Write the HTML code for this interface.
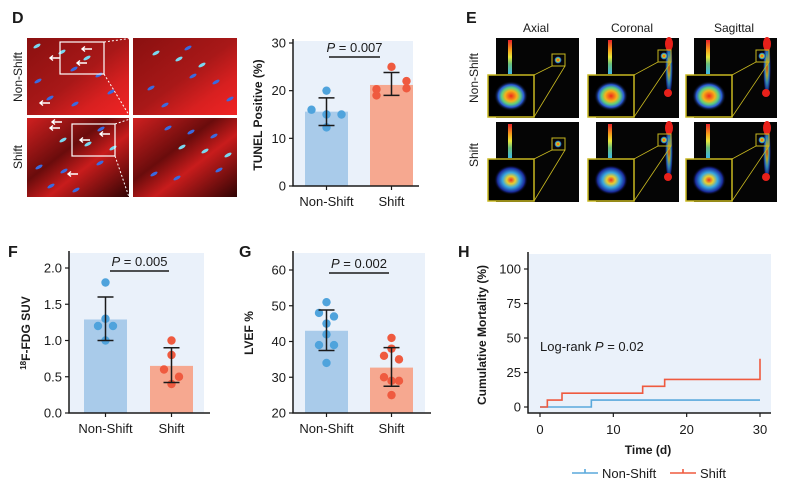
<!DOCTYPE html>
<html><head><meta charset="utf-8">
<style>
html,body{margin:0;padding:0;background:#fff;}
svg{display:block;font-family:"Liberation Sans",sans-serif;}
</style></head>
<body>
<svg id="fig" width="796" height="492" viewBox="0 0 796 492" xmlns="http://www.w3.org/2000/svg">
<defs>
<linearGradient id="cbar" x1="0" y1="0" x2="0" y2="1"><stop offset="0" stop-color="#e8202a"/><stop offset="0.3" stop-color="#f7a21b"/><stop offset="0.5" stop-color="#e9e83a"/><stop offset="0.7" stop-color="#6cc07a"/><stop offset="1" stop-color="#3cb8e8"/></linearGradient>
<radialGradient id="hot"><stop offset="0" stop-color="#f02a1a"/><stop offset="0.35" stop-color="#f5b21a"/><stop offset="0.55" stop-color="#5fd07a"/><stop offset="0.75" stop-color="#2a5ad8"/><stop offset="1" stop-color="#000" stop-opacity="0"/></radialGradient>
<radialGradient id="cool"><stop offset="0" stop-color="#e83020"/><stop offset="0.25" stop-color="#e8d030"/><stop offset="0.5" stop-color="#38a8e0"/><stop offset="0.8" stop-color="#1a2a9a"/><stop offset="1" stop-color="#000" stop-opacity="0"/></radialGradient>
<linearGradient id="mic1" x1="0" y1="0" x2="1" y2="1"><stop offset="0" stop-color="#8a1010"/><stop offset="0.5" stop-color="#a81818"/><stop offset="0.75" stop-color="#d82020"/><stop offset="1" stop-color="#f02424"/></linearGradient>
<linearGradient id="mic2" x1="0" y1="0" x2="1" y2="1"><stop offset="0" stop-color="#d02020"/><stop offset="0.4" stop-color="#6a0c0c"/><stop offset="0.6" stop-color="#c81c1c"/><stop offset="1" stop-color="#300404"/></linearGradient>
</defs>
<g id="root"></g>
</svg>
<script>
const NS='http://www.w3.org/2000/svg';
const root=document.getElementById('root');
function mk(tag,attrs,parent,txt){const e=document.createElementNS(NS,tag);for(const k in attrs)e.setAttribute(k,attrs[k]);if(txt!==undefined)e.textContent=txt;(parent||root).appendChild(e);return e;}

// ---------- data ----------
const barCategories=['Non-Shift','Shift'];
const tunelMeans=[15.6,21.2];
const tunelErrHi=[18.5,23.8];
const tunelErrLo=[12.7,19.0];
const tunelPtsNS=[20,16,15,15,12.3];
const tunelPtsS=[25,22,20.3,20.5,19];
const tunelTicks=[0,10,20,30];
const fdgMeans=[1.29,0.65];
const fdgErrHi=[1.6,0.9];
const fdgErrLo=[1.0,0.42];
const fdgPtsNS=[1.8,1.3,1.2,1.2,1.0];
const fdgPtsS=[1.0,0.8,0.6,0.5,0.4];
const fdgTicks=[0.0,0.5,1.0,1.5,2.0];
const lvefMeans=[43,32.7];
const lvefErrHi=[48.8,38.3];
const lvefErrLo=[37.5,27.5];
const lvefPtsNS=[51,48,47,45,42,39,39,34];
const lvefPtsS=[41,38,36,35,30,29,29,25];
const lvefTicks=[20,30,40,50,60];
const kmTimesS=[0,1,3,14,17,30,30];
const kmValsS=[0,5,10,15,20,20,35];
const kmTimesNS=[0,7,30];
const kmValsNS=[0,5,5];
const kmYTicks=[0,25,50,75,100];
const kmXTicks=[0,10,20,30];

const BLUE_BAR='#a9cbea',RED_BAR='#f6a890',BLUE_DOT='#4fa3dc',RED_DOT='#ef5a3f',BG='#eaf1fa',INK='#1a1a1a';

function barChart(cfg){
  const g=mk('g',{});
  
  
  const y=v=>cfg.y0+(v-cfg.vmin)/(cfg.vmax-cfg.vmin)*(cfg.y1-cfg.y0);
  const bg=mk('rect',{x:cfg.ax,y:cfg.top,width:cfg.right-cfg.ax,height:cfg.y0-cfg.top,fill:BG},g);
  
  const centers=[cfg.bx[0]+cfg.bw/2,cfg.bx[1]+cfg.bw/2];
  const pts=[cfg.ptsNS,cfg.ptsS];
  cfg.means.forEach((m,i)=>{
    const b=mk('rect',{x:cfg.bx[i],y:y(m),width:cfg.bw,height:cfg.y0-y(m),fill:i?RED_BAR:BLUE_BAR},g);
    
    
    const c=centers[i];
    pts[i].forEach((v,j)=>{
      const off=cfg.offs[i][j]*cfg.spread;
      const d=mk('circle',{cx:c+off,cy:y(v),r:4.2,fill:i?RED_DOT:BLUE_DOT},g);
      
      
    });
    const e=mk('path',{d:`M${c},${y(cfg.hi[i])}V${y(cfg.lo[i])}M${c-8},${y(cfg.hi[i])}H${c+8}M${c-8},${y(cfg.lo[i])}H${c+8}`,stroke:INK,'stroke-width':1.5,fill:'none'},g);
    
    
    const t=mk('text',{x:c,y:cfg.y0+20,'text-anchor':'middle','font-size':13,fill:INK},g,barCategories[i]);
    
    
    mk('line',{x1:c,x2:c,y1:cfg.y0,y2:cfg.y0+4,stroke:INK,'stroke-width':1.2},g);
  });
  mk('path',{d:`M${cfg.ax},${cfg.top-2}V${cfg.y0}H${cfg.right+6}`,stroke:INK,'stroke-width':1.5,fill:'none'},g);
  cfg.ticks.forEach(v=>{
    mk('line',{x1:cfg.ax-4,x2:cfg.ax,y1:y(v),y2:y(v),stroke:INK,'stroke-width':1.2},g);
    const t=mk('text',{x:cfg.ax-7,y:y(v)+4.5,'text-anchor':'end','font-size':13,fill:INK},g,cfg.fmt(v));
    
    
  });
  const yt=mk('text',{transform:`translate(${cfg.tx},${cfg.ty}) rotate(-90)`,'text-anchor':'middle','font-size':12,'font-weight':'bold',fill:INK},g);
  yt.innerHTML=cfg.title;
  
  
  mk('line',{x1:cfg.pb[0],x2:cfg.pb[1],y1:cfg.pby,y2:cfg.pby,stroke:INK,'stroke-width':1.5},g);
  const p=mk('text',{x:(cfg.pb[0]+cfg.pb[1])/2,y:cfg.pby-5,'text-anchor':'middle','font-size':13,fill:INK},g);
  p.innerHTML='<tspan font-style="italic">P</tspan> = '+cfg.p;
  
  
}

barChart({name:'tunel-chart',ax:293,right:413,top:41,y0:186,y1:43,vmin:0,vmax:30,bx:[305,370],bw:43,means:tunelMeans,hi:tunelErrHi,lo:tunelErrLo,ptsNS:tunelPtsNS,ptsS:tunelPtsS,offs:[[0,-1,0,1,0],[0,1,-1,1,-1]],spread:15,ticks:tunelTicks,fmt:v=>String(v),title:'TUNEL Positive (%)',tx:262,ty:115,pb:[329,380],pby:57,p:'0.007'});
barChart({name:'fdg-suv-chart',ax:69,right:204,top:253,y0:413,y1:268,vmin:0,vmax:2,bx:[84,150],bw:43,means:fdgMeans,hi:fdgErrHi,lo:fdgErrLo,ptsNS:fdgPtsNS,ptsS:fdgPtsS,offs:[[0,0,-1,1,0],[0,0,-1,1,0]],spread:7.5,ticks:fdgTicks,fmt:v=>v.toFixed(1),title:'<tspan font-size="8" dy="-4">18</tspan><tspan dy="4">F-FDG SUV</tspan>',tx:30,ty:333,pb:[110,169],pby:271,p:'0.005'});
barChart({name:'lvef-chart',ax:293,right:425,top:253,y0:413,y1:270,vmin:20,vmax:60,bx:[305,370],bw:43,means:lvefMeans,hi:lvefErrHi,lo:lvefErrLo,ptsNS:lvefPtsNS,ptsS:lvefPtsS,offs:[[0,-1,1,0,0,-1,1,0],[0,0,-1,1,-1,0,1,0]],spread:7.5,ticks:lvefTicks,fmt:v=>String(v),title:'LVEF %',tx:253,ty:333,pb:[329,389],pby:273,p:'0.002'});

// ---------- KM ----------
(function(){
  const g=mk('g',{});
  
  
  const ax=528,y0=413,right=771,top=254;
  const x=t=>540+t/30*220, y=v=>407-v/100*138;
  const bg=mk('rect',{x:ax,y:top,width:right-ax,height:y0-top,fill:BG},g);
  
  function step(ts,vs){let d=`M${x(ts[0])},${y(vs[0])}`;for(let i=1;i<ts.length;i++){d+=`H${x(ts[i])}V${y(vs[i])}`;}return d;}
  const ln=mk('path',{d:step(kmTimesNS,kmValsNS),stroke:'#5aa9dc','stroke-width':1.6,fill:'none'},g);
  
  const ls=mk('path',{d:step(kmTimesS,kmValsS),stroke:'#ef5a3f','stroke-width':1.6,fill:'none'},g);
  
  mk('path',{d:`M${ax},${top-2}V${y0}H${right}`,stroke:INK,'stroke-width':1.5,fill:'none'},g);
  kmYTicks.forEach(v=>{mk('line',{x1:ax-4,x2:ax,y1:y(v),y2:y(v),stroke:INK,'stroke-width':1.2},g);
    const t=mk('text',{x:ax-7,y:y(v)+4.5,'text-anchor':'end','font-size':13,fill:INK},g,String(v));
    });
  kmXTicks.forEach(v=>{mk('line',{x1:x(v),x2:x(v),y1:y0,y2:y0+4,stroke:INK,'stroke-width':1.2},g);
    const t=mk('text',{x:x(v),y:y0+21,'text-anchor':'middle','font-size':13,fill:INK},g,String(v));
    });
  const xt=mk('text',{x:648,y:454,'text-anchor':'middle','font-size':12,'font-weight':'bold',fill:INK},g,'Time (d)');
  
  const yt=mk('text',{transform:'translate(486,335) rotate(-90)','text-anchor':'middle','font-size':12,'font-weight':'bold',fill:INK},g,'Cumulative Mortality (%)');
  
  const lr=mk('text',{x:540,y:351,'font-size':13,fill:INK},g);
  lr.innerHTML='Log-rank <tspan font-style="italic">P</tspan> = 0.02';
  
  [['Non-Shift','#5aa9dc',572],['Shift','#ef5a3f',670]].forEach(([n,c,lx])=>{
    const le=mk('g',{},g);
    
    mk('path',{d:`M${lx},473H${lx+26}M${lx+13},469V473`,stroke:c,'stroke-width':1.6,fill:'none'},le);
    mk('text',{x:lx+30,y:478,'font-size':13,fill:INK},le,n);
  });
})();

// ---------- panel letters ----------
[['D',12,23],['E',466,23],['F',8,257],['G',239,257],['H',458,257]].forEach(([l,px,py])=>{
  const t=mk('text',{x:px,y:py,'font-size':16,'font-weight':'bold',fill:INK},root,l);
  
});

// ---------- microscopy (panel D images) ----------
(function(){
  const g=mk('g',{});
  
  const boxes=[[27,38,102,77,'mic1'],[133,38,104,77,'mic1'],[27,118,102,79,'mic2'],[133,118,104,79,'mic2']];
  boxes.forEach(([bx,by,w,h,gr],i)=>{
    const r=mk('rect',{x:bx,y:by,width:w,height:h,fill:`url(#${gr})`},g);
    
    for(let k=0;k<9;k++){const ex=bx+10+((k*37+i*13)%(w-16)), ey=by+8+((k*23+i*7)%(h-14));
      mk('ellipse',{cx:ex,cy:ey,rx:4,ry:1.6,fill:k%3?'#3a6ae0':'#7ad8f0',transform:`rotate(-30 ${ex} ${ey})`},g);}
  });
  mk('rect',{x:60,y:42,width:44,height:32,fill:'none',stroke:'#fff','stroke-width':1.2},g);
  mk('rect',{x:72,y:124,width:43,height:32,fill:'none',stroke:'#fff','stroke-width':1.2},g);
  mk('path',{d:'M104,42L133,38M104,74L129,115M115,124L133,118M115,156L129,197',stroke:'#fff','stroke-dasharray':'2,2','stroke-width':1},g);
  [[82,49],[50,58],[77,63],[40,103],[52,122],[50,128],[80,140],[100,134],[68,174]].forEach(([ax,ay])=>{
    mk('path',{d:`M${ax+10},${ay}H${ax}M${ax+3},${ay-2.5}L${ax},${ay}L${ax+3},${ay+2.5}`,stroke:'#fff','stroke-width':1.4,fill:'none'},g);
  });
  const l1=mk('text',{transform:'translate(22,77) rotate(-90)','text-anchor':'middle','font-size':12,fill:INK},g,'Non-Shift');
  
  const l2=mk('text',{transform:'translate(22,157) rotate(-90)','text-anchor':'middle','font-size':12,fill:INK},g,'Shift');
  
})();

// ---------- PET images (panel E) ----------
(function(){
  const g=mk('g',{});
  
  const cols=[[496,536,'Axial'],[596,632,'Coronal'],[694,734,'Sagittal']];
  const rows=[[38,'Non-Shift'],[122,'Shift']];
  cols.forEach(([cx,hx,name],ci)=>{
    const h=mk('text',{x:hx,y:32,'text-anchor':'middle','font-size':12,fill:INK},g,name);
    
    rows.forEach(([ry],ri)=>{
      const im=mk('rect',{x:cx,y:ry,width:83,height:80,fill:'#050505'},g);
      
      mk('rect',{x:cx+12,y:ry+2,width:4,height:34,fill:'url(#cbar)'},g);
      if(ci>0){mk('ellipse',{cx:cx+73,cy:ry+30,rx:4,ry:30,fill:'url(#cool)',opacity:0.8},g);mk('ellipse',{cx:cx+73,cy:ry+6,rx:4,ry:7,fill:'#e8201a'},g);mk('circle',{cx:cx+72,cy:ry+55,r:4,fill:'#e8201a'},g);}
      const sx=ci===0?cx+56:cx+62, sy=ry+(ci===0?16:12);
      mk('rect',{x:sx,y:sy,width:13,height:12,fill:'none',stroke:'#c8b820','stroke-width':1},g);
      mk('circle',{cx:sx+6,cy:sy+6,r:4,fill:'url(#hot)'},g);
      const ix=cx-8, iy=ry+37;
      mk('rect',{x:ix,y:iy,width:46,height:42,fill:'#000',stroke:'#c8b820','stroke-width':1.5},g);
      mk('ellipse',{cx:ix+23,cy:iy+21,rx:17,ry:15,fill:ri?'url(#cool)':'url(#hot)'},g);
      mk('path',{d:`M${ix+46},${iy}L${sx},${sy+12}M${ix+46},${iy+42}L${sx+13},${sy+12}`,stroke:'#c8b820','stroke-width':0.8,fill:'none'},g);
    });
  });
  const l1=mk('text',{transform:'translate(478,78) rotate(-90)','text-anchor':'middle','font-size':12,fill:INK},g,'Non-Shift');
  
  const l2=mk('text',{transform:'translate(478,155) rotate(-90)','text-anchor':'middle','font-size':12,fill:INK},g,'Shift');
  
})();
</script>
</body></html>
